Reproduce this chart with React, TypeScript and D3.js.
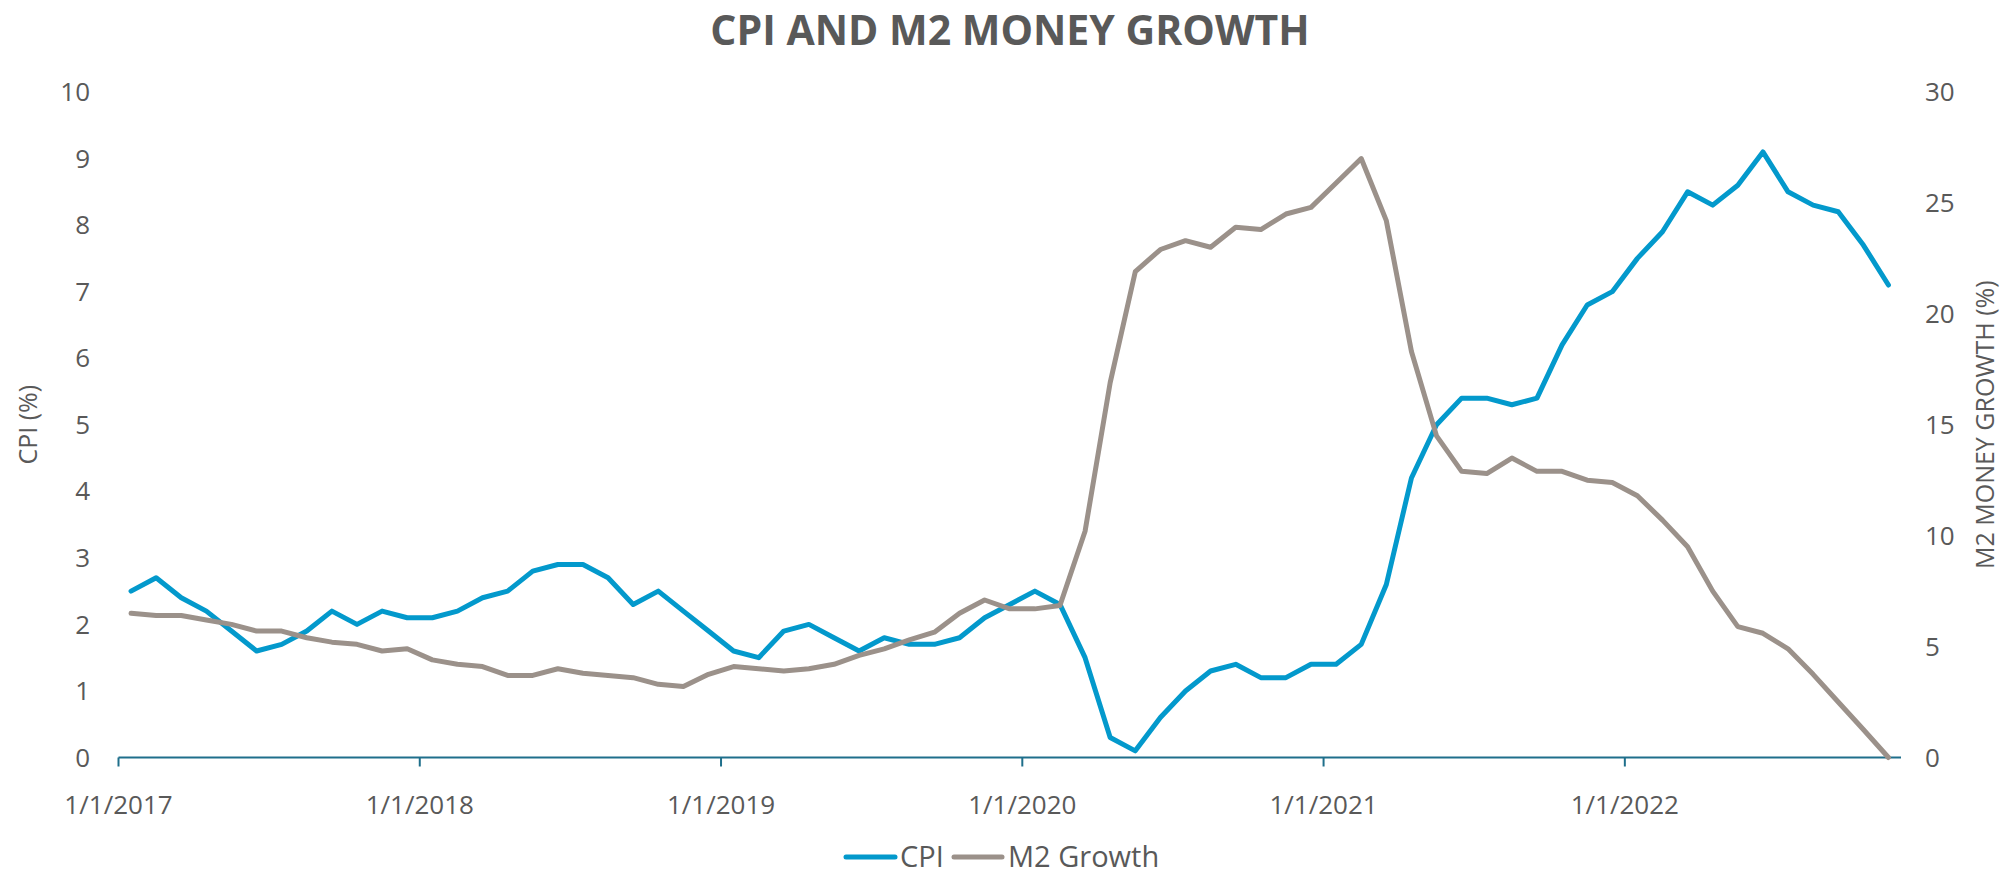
import React from 'react';
import * as d3 from 'd3';

// monthly, Jan 2017 .. Nov 2022
const months = d3.timeMonth.range(new Date(2017, 0, 1), new Date(2022, 11, 1));

const cpi = [
  2.5, 2.7, 2.4, 2.2, 1.9, 1.6, 1.7, 1.9, 2.2, 2.0, 2.2, 2.1,
  2.1, 2.2, 2.4, 2.5, 2.8, 2.9, 2.9, 2.7, 2.3, 2.5, 2.2, 1.9,
  1.6, 1.5, 1.9, 2.0, 1.8, 1.6, 1.8, 1.7, 1.7, 1.8, 2.1, 2.3,
  2.5, 2.3, 1.5, 0.3, 0.1, 0.6, 1.0, 1.3, 1.4, 1.2, 1.2, 1.4,
  1.4, 1.7, 2.6, 4.2, 5.0, 5.4, 5.4, 5.3, 5.4, 6.2, 6.8, 7.0,
  7.5, 7.9, 8.5, 8.3, 8.6, 9.1, 8.5, 8.3, 8.2, 7.7, 7.1,
];

const m2Growth = [
  6.5, 6.4, 6.4, 6.2, 6.0, 5.7, 5.7, 5.4, 5.2, 5.1, 4.8, 4.9,
  4.4, 4.2, 4.1, 3.7, 3.7, 4.0, 3.8, 3.7, 3.6, 3.3, 3.2, 3.75,
  4.1, 4.0, 3.9, 4.0, 4.2, 4.6, 4.9, 5.3, 5.65, 6.5, 7.1, 6.7,
  6.7, 6.85, 10.2, 16.9, 21.9, 22.9, 23.3, 23.0, 23.9, 23.8, 24.5, 24.8,
  25.9, 27.0, 24.2, 18.3, 14.5, 12.9, 12.8, 13.5, 12.9, 12.9, 12.5, 12.4,
  11.8, 10.7, 9.5, 7.5, 5.9, 5.6, 4.9, 3.75, 2.5, 1.26, 0,
];

const xTickLabels = ['1/1/2017', '1/1/2018', '1/1/2019', '1/1/2020', '1/1/2021', '1/1/2022'];
const leftTicks = [0, 1, 2, 3, 4, 5, 6, 7, 8, 9, 10];
const rightTicks = [0, 5, 10, 15, 20, 25, 30];

const W = 2003;
const H = 874;
const FONT = "'Open Sans', sans-serif";
const TEXT = '#595959';
const AXIS = '#1f6f8b';
const CPI_COLOR = '#0399cc';
const M2_COLOR = '#9b918a';

const App = () => {
  const plot = { left: 118.5, right: 1901, top: 92, bottom: 757.5 };

  const x = d3.scaleBand<number>()
    .domain(months.map((_, i) => i))
    .range([plot.left, plot.right])
    .paddingInner(0);
  const cx = (i: number) => (x(i) as number) + x.bandwidth() / 2;

  const yLeft = d3.scaleLinear().domain([0, 10]).range([plot.bottom, plot.top]);
  const yRight = d3.scaleLinear().domain([0, 30]).range([plot.bottom, plot.top]);

  const cpiLine = d3.line<number>().x((_, i) => cx(i)).y(d => yLeft(d));
  const m2Line = d3.line<number>().x((_, i) => cx(i)).y(d => yRight(d));

  const tickIdx = months.map((d, i) => (d.getMonth() === 0 ? i : -1)).filter(i => i >= 0);

  return (
    <div style={{ position: 'fixed', left: 0, top: 0 }}>
      <svg width={W} height={H} style={{ display: 'block', background: '#fff' }}>
        <text x={1010} y={45} textAnchor="middle" fontFamily={FONT} fontWeight={700}
          fontSize={41} fill={TEXT}>CPI AND M2 MONEY GROWTH</text>

        {/* left axis labels */}
        {leftTicks.map(t => (
          <text key={'l' + t} x={90} y={yLeft(t)} dy="0.35em" textAnchor="end"
            fontFamily={FONT} fontSize={26} fill={TEXT}>{t}</text>
        ))}
        {/* right axis labels */}
        {rightTicks.map(t => (
          <text key={'r' + t} x={1925} y={yRight(t)} dy="0.35em" textAnchor="start"
            fontFamily={FONT} fontSize={26} fill={TEXT}>{t}</text>
        ))}

        <text transform={`translate(28,${(plot.top + plot.bottom) / 2}) rotate(-90)`}
          textAnchor="middle" dy="0.35em" fontFamily={FONT} fontSize={25} fill={TEXT}>CPI (%)</text>
        <text transform={`translate(1985,${(plot.top + plot.bottom) / 2}) rotate(-90)`}
          textAnchor="middle" dy="0.35em" fontFamily={FONT} fontSize={25} fill={TEXT}>M2 MONEY GROWTH (%)</text>

        {/* x axis */}
        <line x1={plot.left} x2={plot.right} y1={plot.bottom} y2={plot.bottom} stroke={AXIS} strokeWidth={2} />
        {tickIdx.map((i, k) => (
          <g key={'t' + i}>
            <line x1={x(i)} x2={x(i)} y1={plot.bottom} y2={plot.bottom + 9} stroke={AXIS} strokeWidth={2} />
            <text x={x(i)} y={814} textAnchor="middle" fontFamily={FONT} fontSize={26} fill={TEXT}>
              {xTickLabels[k]}
            </text>
          </g>
        ))}

        <path d={cpiLine(cpi) || ''} fill="none" stroke={CPI_COLOR} strokeWidth={5}
          strokeLinejoin="round" strokeLinecap="round" />
        <path d={m2Line(m2Growth) || ''} fill="none" stroke={M2_COLOR} strokeWidth={5}
          strokeLinejoin="round" strokeLinecap="round" />

        {/* legend */}
        <g fontFamily={FONT} fontSize={29} fill={TEXT}>
          <line x1={846} x2={895} y1={857} y2={857} stroke={CPI_COLOR} strokeWidth={5} strokeLinecap="round" />
          <text x={900} y={857} dy="0.35em">CPI</text>
          <line x1={954} x2={1002} y1={857} y2={857} stroke={M2_COLOR} strokeWidth={5} strokeLinecap="round" />
          <text x={1008} y={857} dy="0.35em">M2 Growth</text>
        </g>
      </svg>
    </div>
  );
};

export default App;
